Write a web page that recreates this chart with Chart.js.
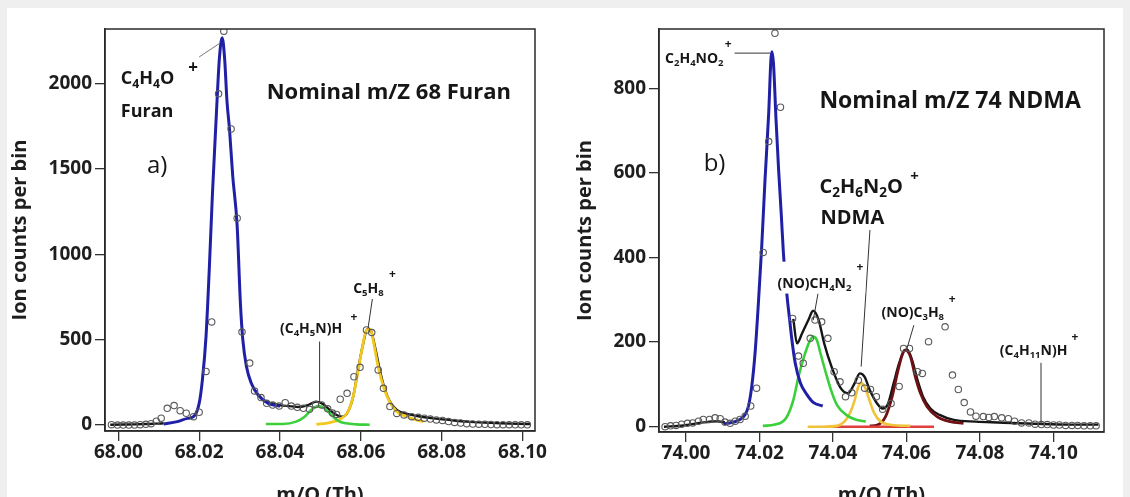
<!DOCTYPE html>
<html><head><meta charset="utf-8">
<script src="https://cdn.jsdelivr.net/npm/chart.js@4.4.0/dist/chart.umd.min.js"></script>
<style>
html,body{margin:0;padding:0;width:1130px;height:497px;overflow:hidden;background:#efefef;}
.panel{position:absolute;background:#fff;}
canvas{position:absolute;top:0;}
</style></head><body>
<div class="panel" style="left:7px;top:8px;width:1116px;height:489px"></div>
<canvas id="c1" width="560" height="520" style="left:0px"></canvas>
<canvas id="c2" width="570" height="520" style="left:560px"></canvas>
<script>
const FONT = "'Open Sans', 'DejaVu Sans', sans-serif";

// ---------------- Panel a) : nominal m/Z 68 ----------------
const leftXTicks = [68.00, 68.02, 68.04, 68.06, 68.08, 68.10];
const leftYTicks = [0, 500, 1000, 1500, 2000];

const leftObsX = [67.9983,67.9998,68.0012,68.0026,68.0040,68.0054,68.0068,68.0081,68.0094,68.0106,
  68.0121,68.0138,68.0153,68.0168,68.0186,68.0200,68.0217,68.0231,68.0248,68.0261,
  68.0279,68.0294,68.0306,68.0325,68.0337,68.0353,68.0367,68.0382,68.0398,68.0413,
  68.0428,68.0443,68.0458,68.0473,68.0488,68.0503,68.0518,68.0530,68.0540,68.0549,
  68.0566,68.0583,68.0598,68.0614,68.0627,68.0643,68.0656,68.0672,68.0689,68.0707,
  68.0726,68.0742,68.0757,68.0772,68.0787,68.0802,68.0817,68.0832,68.0847,68.0862,
  68.0877,68.0892,68.0907,68.0922,68.0937,68.0952,68.0967,68.0982,68.0997,68.1012];
const leftObsY = [2,0,0,0,0,2,4,8,22,40,
  98,114,84,69,49,75,314,604,1941,2308,
  1735,1212,545,363,200,161,127,117,111,131,
  111,104,98,92,120,118,95,70,62,151,
  186,283,338,557,542,323,215,108,68,59,
  49,45,40,35,30,27,20,15,12,8,
  6,5,4,3,2,2,2,1,1,1];

const leftBlueX = [68.0112,68.0146,68.0171,68.0186,68.0200,68.0208,68.0217,68.0225,68.0233,68.0242,
  68.0250,68.0257,68.0263,68.0269,68.0275,68.0283,68.0294,68.0302,68.0308,68.0317,
  68.0329,68.0346,68.0371,68.0400];
const leftBlueY = [6,20,39,49,127,265,520,912,1363,1794,
  2147,2269,2147,1892,1735,1461,1167,716,500,343,
  245,176,127,110];

const leftBlackBaseX = [67.9980,68.0010,68.0040,68.0070,68.0095,68.0112];
const leftBlackBaseY = [2,3,4,6,8,10];
const leftBlackX = [68.0360,68.0373,68.0398,68.0423,68.0448,68.0469,68.0490,68.0506,68.0523,68.0540,
  68.0554,68.0568,68.0581,68.0593,68.0606,68.0616,68.0624,68.0635,68.0647,68.0660,
  68.0672,68.0689,68.0714,68.0739,68.0780,68.0822,68.0863,68.0905,68.0946,68.0990,68.1020];
const leftBlackY = [140,131,117,111,106,117,137,123,88,59,
  49,78,166,323,479,561,557,459,323,205,
  137,88,65,53,39,29,20,14,10,7,6];

const leftGreenX = [68.0365,68.0407,68.0440,68.0461,68.0477,68.0494,68.0510,68.0527,68.0544,68.0564,68.0589,68.0622];
const leftGreenY = [6,6,20,49,88,111,98,59,25,10,4,2];

const leftYellowX = [68.0490,68.0523,68.0548,68.0568,68.0581,68.0593,68.0604,68.0614,68.0624,68.0632,
  68.0643,68.0656,68.0671,68.0689,68.0714,68.0739,68.0755];
const leftYellowY = [4,14,33,78,166,313,459,557,561,479,342,225,137,78,49,29,20];

// ---------------- Panel b) : nominal m/Z 74 ----------------
const rightXTicks = [74.00, 74.02, 74.04, 74.06, 74.08, 74.10];
const rightYTicks = [0, 200, 400, 600, 800];

const rightObsX = [73.9943,73.9958,73.9973,73.9988,74.0004,74.0018,74.0034,74.0047,74.0064,74.0079,
  74.0093,74.0106,74.0120,74.0134,74.0147,74.0161,74.0176,74.0192,74.0210,74.0225,
  74.0242,74.0257,74.0290,74.0306,74.0319,74.0338,74.0351,74.0369,74.0386,74.0403,
  74.0419,74.0434,74.0451,74.0469,74.0486,74.0502,74.0518,74.0535,74.0558,74.0580,
  74.0592,74.0608,74.0630,74.0643,74.0660,74.0705,74.0725,74.0741,74.0757,74.0774,
  74.0789,74.0809,74.0824,74.0839,74.0859,74.0877,74.0894,74.0913,74.0933,74.0950,
  74.0967,74.0983,74.1000,74.1016,74.1033,74.1050,74.1066,74.1083,74.1100,74.1116];
const rightObsY = [0,2,3,6,8,9,13,17,17,21,
  19,11,8,13,17,25,49,91,412,674,
  930,755,256,167,150,209,252,248,209,130,
  106,71,80,110,91,88,71,41,55,95,
  185,185,130,126,201,236,122,88,57,35,
  25,24,22,24,21,19,13,9,9,6,
  5,5,4,4,3,3,3,2,2,2];

const rightBlueX = [74.0102,74.0129,74.0147,74.0161,74.0170,74.0179,74.0188,74.0197,74.0206,74.0215,
  74.0225,74.0231,74.0234,74.0238,74.0245,74.0252,74.0259,74.0265,74.0275,74.0282,
  74.0288,74.0297,74.0311,74.0329,74.0347,74.0372];
const rightBlueY = [6,11,17,29,49,96,175,293,426,584,
  741,867,886,859,725,607,505,411,308,253,
  206,151,104,76,57,49];

const rightBlackBaseX = [73.9940,73.9993,74.0038,74.0084,74.0106];
const rightBlackBaseY = [0,3,9,13,10];
const rightBlackX = [74.0292,74.0302,74.0316,74.0333,74.0346,74.0361,74.0376,74.0396,74.0421,74.0441,
  74.0459,74.0473,74.0486,74.0500,74.0520,74.0535,74.0550,74.0565,74.0580,74.0595,
  74.0602,74.0615,74.0630,74.0645,74.0665,74.0690,74.0729,74.0789,74.0849,74.0949,74.1048,74.1122];
const rightBlackY = [255,197,221,252,274,252,197,142,91,79,
  103,126,118,87,55,43,55,103,150,181,
  182,158,110,71,43,28,16,12,10,7,5,5];

const rightGreenX = [74.0209,74.0242,74.0272,74.0292,74.0306,74.0321,74.0336,74.0346,74.0356,74.0366,
  74.0381,74.0396,74.0411,74.0436,74.0461,74.0489];
const rightGreenY = [2,5,20,63,118,165,201,213,205,173,126,83,51,28,17,12];

const rightYellowX = [74.0331,74.0371,74.0411,74.0431,74.0446,74.0459,74.0469,74.0476,74.0486,74.0499,
  74.0512,74.0530,74.0560,74.0610];
const rightYellowY = [0,0,2,12,32,63,95,103,95,63,32,12,4,2];

const rightMaroonX = [74.0500,74.0520,74.0543,74.0561,74.0575,74.0588,74.0597,74.0611,74.0624,74.0638,
  74.0656,74.0683,74.0719,74.0755];
const rightMaroonY = [2,4,24,71,126,169,181,165,118,79,47,24,12,8];

const rightRedX = [74.0396,74.0675];
const rightRedY = [0,0];

// ---------------- annotations (data coordinates) ----------------
const leftLabels = [
  {t:'Nominal m/Z 68 Furan', x:68.0367, y:1912, size:22},
  {t:'C{4}H{4}O', x:68.0006, y:1996, size:18, sup:[68.0185, 2092], supSize:17},
  {t:'Furan', x:68.0006, y:1808, size:18},
  {t:'a)', x:68.0071, y:1477, size:24, weight:'normal'},
  {t:'(C{4}H{5}N)H', x:68.0400, y:538, size:14, sup:[68.0583, 632], supSize:12, bg:true},
  {t:'C{5}H{8}', x:68.0581, y:774, size:14, sup:[68.0678, 880], supSize:12, bg:true}
];
const leftLeaders = [
  [68.0200, 2157, 68.0250, 2236, '#7a7a7a'],
  [68.0498, 489, 68.0498, 137, '#333'],
  [68.0629, 745, 68.0618, 569, '#333']
];
const rightLabels = [
  {t:'Nominal m/Z 74 NDMA', x:74.0363, y:753, size:23},
  {t:'C{2}H{4}NO{2}', x:73.9943, y:860, size:14, sup:[74.0115, 904], supSize:12, bg:true},
  {t:'b)', x:74.0048, y:605, size:24, weight:'normal'},
  {t:'C{2}H{6}N{2}O', x:74.0363, y:553, size:20, sup:[74.0622, 591], supSize:15},
  {t:'NDMA', x:74.0366, y:479, size:20},
  {t:'(NO)CH{4}N{2}', x:74.0249, y:329, size:14, sup:[74.0473, 375], supSize:12, bg:true},
  {t:'(NO)C{3}H{8}', x:74.0532, y:260, size:14, sup:[74.0724, 300], supSize:12, bg:true},
  {t:'(C{4}H{11}N)H', x:74.0854, y:170, size:14, sup:[74.1058, 210], supSize:12, bg:true}
];
const rightLeaders = [
  [74.0132, 883, 74.0229, 883, '#333'],
  [74.05005, 465, 74.04766, 142, '#333'],
  [74.03592, 315, 74.03463, 252, '#333'],
  [74.0620, 240, 74.0600, 181, '#333'],
  [74.0966, 151, 74.0966, 4, '#333']
];

// ---------------- helpers ----------------
const pts = (xs, ys) => xs.map((x, i) => ({x: x, y: ys[i]}));
function lineDs(xs, ys, color, width, order) {
  return {data: pts(xs, ys), showLine: true, borderColor: color, backgroundColor: color,
    borderWidth: width, pointRadius: 0, pointHoverRadius: 0, tension: 0.35,
    cubicInterpolationMode: 'monotone', order: order, fill: false};
}
function obsDs(xs, ys) {
  return {data: pts(xs, ys), showLine: false, pointStyle: 'circle', pointRadius: 3.2,
    pointBorderWidth: 1.1, pointBorderColor: '#5a5a5a', pointBackgroundColor: 'rgba(255,255,255,0)', order: 0};
}

function drawLabel(ctx, L, px, py, spx, spy) {
  const w = L.weight || 'bold';
  const size = L.size;
  const parts = L.t.split(/(\{[^}]*\})/).filter(s => s.length);
  let width = 0;
  const segs = parts.map(p => {
    const sub = p[0] === '{';
    const s = sub ? p.slice(1, -1) : p;
    const fs = sub ? size * 0.68 : size;
    ctx.font = w + ' ' + fs + 'px ' + FONT;
    const seg = {s: s, sub: sub, fs: fs, off: width};
    width += ctx.measureText(s).width;
    return seg;
  });
  const supSize = L.supSize || 12;
  if (L.bg) {
    let right = px + width, top = py - size * 0.78, bottom = py + size * 0.36;
    if (L.sup) {
      ctx.font = 'bold ' + supSize + 'px ' + FONT;
      const sw = ctx.measureText('+').width;
      right = Math.max(right, spx + sw / 2);
      top = Math.min(top, spy - supSize * 0.45);
    }
    ctx.fillStyle = '#ffffff';
    ctx.fillRect(px - 2, top - 1, right - px + 4, bottom - top + 2);
  }
  ctx.fillStyle = '#161616';
  ctx.textAlign = 'left';
  ctx.textBaseline = 'alphabetic';
  for (const g of segs) {
    ctx.font = w + ' ' + g.fs + 'px ' + FONT;
    ctx.fillText(g.s, px + g.off, py + (g.sub ? size * 0.22 : 0));
  }
  if (L.sup) {
    ctx.font = 'bold ' + supSize + 'px ' + FONT;
    ctx.textAlign = 'center';
    ctx.textBaseline = 'middle';
    ctx.fillText('+', spx, spy);
  }
}

function annotPlugin(labels, leaders) {
  return {
    id: 'annot',
    afterDatasetsDraw(chart) {
      const ctx = chart.ctx, a = chart.chartArea, xs = chart.scales.x, ys = chart.scales.y;
      ctx.save();
      for (const L of leaders) {
        ctx.beginPath();
        ctx.strokeStyle = L[4];
        ctx.lineWidth = 1;
        ctx.moveTo(xs.getPixelForValue(L[0]), ys.getPixelForValue(L[1]));
        ctx.lineTo(xs.getPixelForValue(L[2]), ys.getPixelForValue(L[3]));
        ctx.stroke();
      }
      for (const L of labels) {
        drawLabel(ctx, L, xs.getPixelForValue(L.x), ys.getPixelForValue(L.y),
          L.sup ? xs.getPixelForValue(L.sup[0]) : 0, L.sup ? ys.getPixelForValue(L.sup[1]) : 0);
      }
      ctx.strokeStyle = '#2a2a2a';
      ctx.lineWidth = 1.5;
      ctx.strokeRect(a.left, a.top, a.right - a.left, a.bottom - a.top);
      ctx.restore();
    }
  };
}

function makeChart(id, P) {
  const tickFont = {family: FONT, weight: 'bold', size: 19};
  const titleFont = {family: FONT, weight: 'bold', size: 20};
  return new Chart(document.getElementById(id), {
    type: 'scatter',
    data: {datasets: P.datasets},
    options: {
      responsive: false, animation: false, events: [],
      layout: {padding: {left: 0, top: P.top, right: P.right, bottom: 0}},
      plugins: {legend: {display: false}, tooltip: {enabled: false}},
      scales: {
        x: {
          type: 'linear', min: P.xmin, max: P.xmax,
          afterBuildTicks: s => { s.ticks = P.xticks.map(v => ({value: v})); },
          afterFit: s => { s.height = P.xh; },
          ticks: {callback: v => Number(v).toFixed(2), font: tickFont, color: '#1e1e1e', padding: 0, maxRotation: 0, autoSkip: false},
          grid: {drawOnChartArea: false, drawTicks: true, tickLength: 10, color: '#333', lineWidth: 1.3},
          border: {display: true, color: '#2a2a2a', width: 1.5},
          title: {display: true, text: 'm/Q (Th)', font: titleFont, color: '#1e1e1e', padding: {top: 0, bottom: 13}}
        },
        y: {
          type: 'linear', min: P.ymin, max: P.ymax,
          afterBuildTicks: s => { s.ticks = P.yticks.map(v => ({value: v})); },
          afterFit: s => { s.width = P.yw; },
          ticks: {callback: v => String(v), font: tickFont, color: '#1e1e1e', padding: 3, autoSkip: false},
          grid: {drawOnChartArea: false, drawTicks: true, tickLength: 10, color: '#333', lineWidth: 1.3},
          border: {display: true, color: '#2a2a2a', width: 1.5},
          title: {display: true, text: 'Ion counts per bin', font: titleFont, color: '#1e1e1e', padding: {top: P.ytp, bottom: 0}}
        }
      }
    },
    plugins: [annotPlugin(P.labels, P.leaders)]
  });
}

makeChart('c1', {
  xmin: 67.9967, xmax: 68.1031, ymin: -35, ymax: 2321,
  xticks: leftXTicks, yticks: leftYTicks,
  top: 29, right: 25, xh: 89, yw: 105, ytp: 8,
  labels: leftLabels, leaders: leftLeaders,
  datasets: [
    obsDs(leftObsX, leftObsY),
    lineDs(leftBlueX, leftBlueY, '#2020a6', 3, 1),
    lineDs(leftGreenX, leftGreenY, '#3ccf3c', 2.6, 1),
    lineDs(leftYellowX, leftYellowY, '#f2c81e', 2.8, 1),
    lineDs(leftBlackBaseX, leftBlackBaseY, '#151515', 2.4, 2),
    lineDs(leftBlackX, leftBlackY, '#151515', 2.4, 2)
  ]
});

makeChart('c2', {
  xmin: 73.99265, xmax: 74.11374, ymin: -12.5, ymax: 940,
  xticks: rightXTicks, yticks: rightYTicks,
  top: 29, right: 26, xh: 88, yw: 99, ytp: 13,
  labels: rightLabels, leaders: rightLeaders,
  datasets: [
    obsDs(rightObsX, rightObsY),
    lineDs(rightBlueX, rightBlueY, '#2020a6', 3, 1),
    lineDs(rightGreenX, rightGreenY, '#3ccf3c', 2.6, 1),
    lineDs(rightYellowX, rightYellowY, '#efc43a', 2.6, 1),
    lineDs(rightRedX, rightRedY, '#e0403c', 2.6, 1),
    lineDs(rightMaroonX, rightMaroonY, '#6e1014', 2.8, 1),
    lineDs(rightBlackBaseX, rightBlackBaseY, '#151515', 2.4, 2),
    lineDs(rightBlackX, rightBlackY, '#151515', 2.4, 2)
  ]
});
</script></body></html>
